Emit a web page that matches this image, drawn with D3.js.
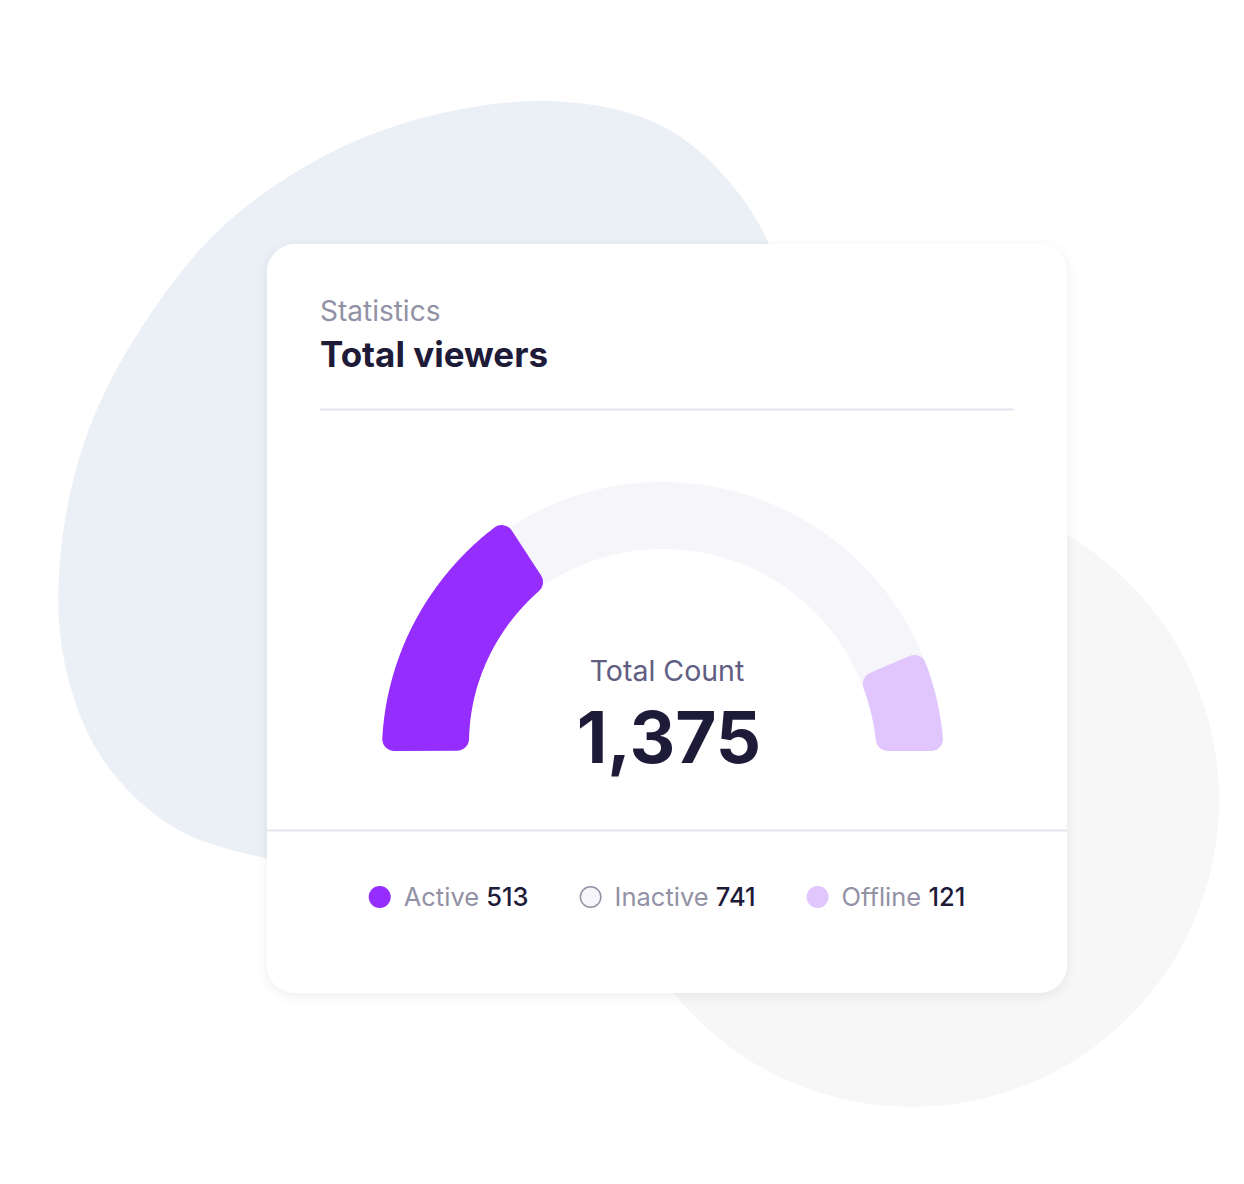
<!DOCTYPE html>
<html>
<head>
<meta charset="utf-8">
<script src="https://cdn.jsdelivr.net/npm/d3@7"></script>
<style>
  html, body { margin: 0; padding: 0; background: #ffffff; }
  svg { display: block; }
  text { font-family: Inter, "Noto Sans", sans-serif; }
</style>
</head>
<body>
<svg id="chart" width="1244" height="1184"></svg>
<script>
// ---- data ----
const categories = ["Active", "Inactive", "Offline"];
const values = [513, 741, 121];
const seriesColors = ["#962DFF", "#F6F5FA", "#E0C6FD"];
const titleSmall = "Statistics";
const titleMain = "Total viewers";
const centerLabel = "Total Count";

const total = d3.sum(values);

// ---- layout ----
const svg = d3.select("#chart");
const defs = svg.append("defs");

const shadow = defs.append("filter").attr("id", "cardShadow")
  .attr("x", "-10%").attr("y", "-10%").attr("width", "120%").attr("height", "120%");
shadow.append("feDropShadow").attr("dx", 0).attr("dy", 3).attr("stdDeviation", 6)
  .attr("flood-color", "#0D0A2C").attr("flood-opacity", 0.07);

// background blobs
const blobLeft = [[540,101],[660,125],[740,195],[790,300],[805,430],[780,580],[700,730],[560,830],[400,870],[265,858],[170,825],[100,755],[64,660],[60,560],[85,440],[140,330],[230,220],[370,135]];
svg.append("path")
  .attr("d", d3.line().curve(d3.curveCatmullRomClosed)(blobLeft))
  .attr("fill", "#EBF0F6");
svg.append("circle").attr("cx", 912).attr("cy", 800).attr("r", 307).attr("fill", "#F7F7F8");

// card
const card = { x: 267, y: 244, w: 800, h: 749, r: 28 };
svg.append("rect")
  .attr("x", card.x).attr("y", card.y).attr("width", card.w).attr("height", card.h)
  .attr("rx", card.r).attr("fill", "#ffffff").attr("filter", "url(#cardShadow)");

// titles
svg.append("text").attr("x", 320).attr("y", 321).text(titleSmall)
  .attr("font-size", 28).attr("fill", "#9291A5");
svg.append("text").attr("x", 320).attr("y", 367).text(titleMain)
  .attr("font-size", 35).attr("font-weight", 700).attr("fill", "#1E1B39");

svg.append("line").attr("x1", 320).attr("x2", 1014).attr("y1", 409.5).attr("y2", 409.5)
  .attr("stroke", "#E5E5EF").attr("stroke-width", 2);
svg.append("line").attr("x1", card.x).attr("x2", card.x + card.w).attr("y1", 830.5).attr("y2", 830.5)
  .attr("stroke", "#E5E5EF").attr("stroke-width", 2);

// ---- gauge ----
const cx = 663, cy = 763;
const chordH = 12;    // flat bottom ends sit this far above centre
const corner = 12;    // rounded corner radius

// angle (degrees from left horizontal) for a cumulative value
const angle = d3.scalePow().exponent(1.17).domain([0, total]).range([3, 174]);

const cum = [];
values.reduce((acc, v, i) => { cum[i] = [acc, acc + v]; return acc + v; }, 0);

const deg = Math.PI / 180;
function band(a0, a1, rO, rI, startType, endType) {
  const c = corner;
  const lim = (type, a, rho, isStart) => {
    if (type === "chord") {
      const t = Math.asin((chordH + c) / rho) / deg;
      return isStart ? t : 180 - t;
    }
    const t = Math.asin(c / rho) / deg;
    return isStart ? a + t : a - t;
  };
  const pts = [];
  const N = 160;
  const roS = rO(a0) - c, roE = rO(a1) - c;
  const oS = lim(startType, a0, roS, true), oE = lim(endType, a1, roE, false);
  for (let i = 0; i <= N; i++) {
    const a = oS + (oE - oS) * i / N;
    const rho = rO(a) - c;
    pts.push([cx - rho * Math.cos(a * deg), cy - rho * Math.sin(a * deg)]);
  }
  const riS = rI(a0) + c, riE = rI(a1) + c;
  const iS = lim(startType, a0, riS, true), iE = lim(endType, a1, riE, false);
  for (let i = N; i >= 0; i--) {
    const a = iS + (iE - iS) * i / N;
    const rho = rI(a) + c;
    pts.push([cx - rho * Math.cos(a * deg), cy - rho * Math.sin(a * deg)]);
  }
  return d3.line()(pts) + "Z";
}

const g = svg.append("g");
const trackO = () => 281, trackI = () => 214;
g.append("path")
  .attr("d", band(0, 180, trackO, trackI, "chord", "chord"))
  .attr("fill", seriesColors[1]).attr("stroke", seriesColors[1])
  .attr("stroke-width", corner * 2).attr("stroke-linejoin", "round");

const aEnd = angle(cum[0][1]);
const activeO = a => 281 + 9 * Math.min(1, a / aEnd);
const activeI = a => 193 + 20 * Math.min(1, a / aEnd);
g.append("path")
  .attr("d", band(0, aEnd, activeO, activeI, "chord", "radial"))
  .attr("fill", seriesColors[0]).attr("stroke", seriesColors[0])
  .attr("stroke-width", corner * 2).attr("stroke-linejoin", "round");

const oStart = angle(cum[2][0]);
g.append("path")
  .attr("d", band(oStart, 180, trackO, trackI, "radial", "chord"))
  .attr("fill", seriesColors[2]).attr("stroke", seriesColors[2])
  .attr("stroke-width", corner * 2).attr("stroke-linejoin", "round");

// centre text
svg.append("text").attr("x", 667).attr("y", 681).attr("text-anchor", "middle")
  .text(centerLabel).attr("font-size", 28.5).attr("fill", "#615E83");
svg.append("text").attr("x", 669).attr("y", 763).attr("text-anchor", "middle")
  .text(d3.format(",")(total)).attr("font-size", 71).attr("font-weight", 700)
  .attr("fill", "#1E1B39");

// ---- legend ----
const legY = 897, legR = 11, legGap = 51, legCenter = 667;
const legend = svg.append("g");
const items = categories.map((cat, i) => {
  const gi = legend.append("g");
  gi.append("circle").attr("cx", legR).attr("cy", legY).attr("r", i === 1 ? legR - 0.75 : legR)
    .attr("fill", seriesColors[i])
    .attr("stroke", i === 1 ? "#9291A5" : "none").attr("stroke-width", 1.5);
  const t = gi.append("text").attr("x", 2 * legR + 13).attr("y", legY + 9).attr("font-size", 25.5);
  t.append("tspan").attr("fill", "#9291A5").text(cat + " ");
  t.append("tspan").attr("fill", "#1E1B39").attr("font-weight", 500).text(values[i]);
  const w = 2 * legR + 13 + t.node().getComputedTextLength();
  return { gi, w };
});
const totalW = d3.sum(items, d => d.w) + legGap * (items.length - 1);
let x0 = legCenter - totalW / 2;
items.forEach(d => { d.gi.attr("transform", `translate(${x0},0)`); x0 += d.w + legGap; });
</script>
</body>
</html>
